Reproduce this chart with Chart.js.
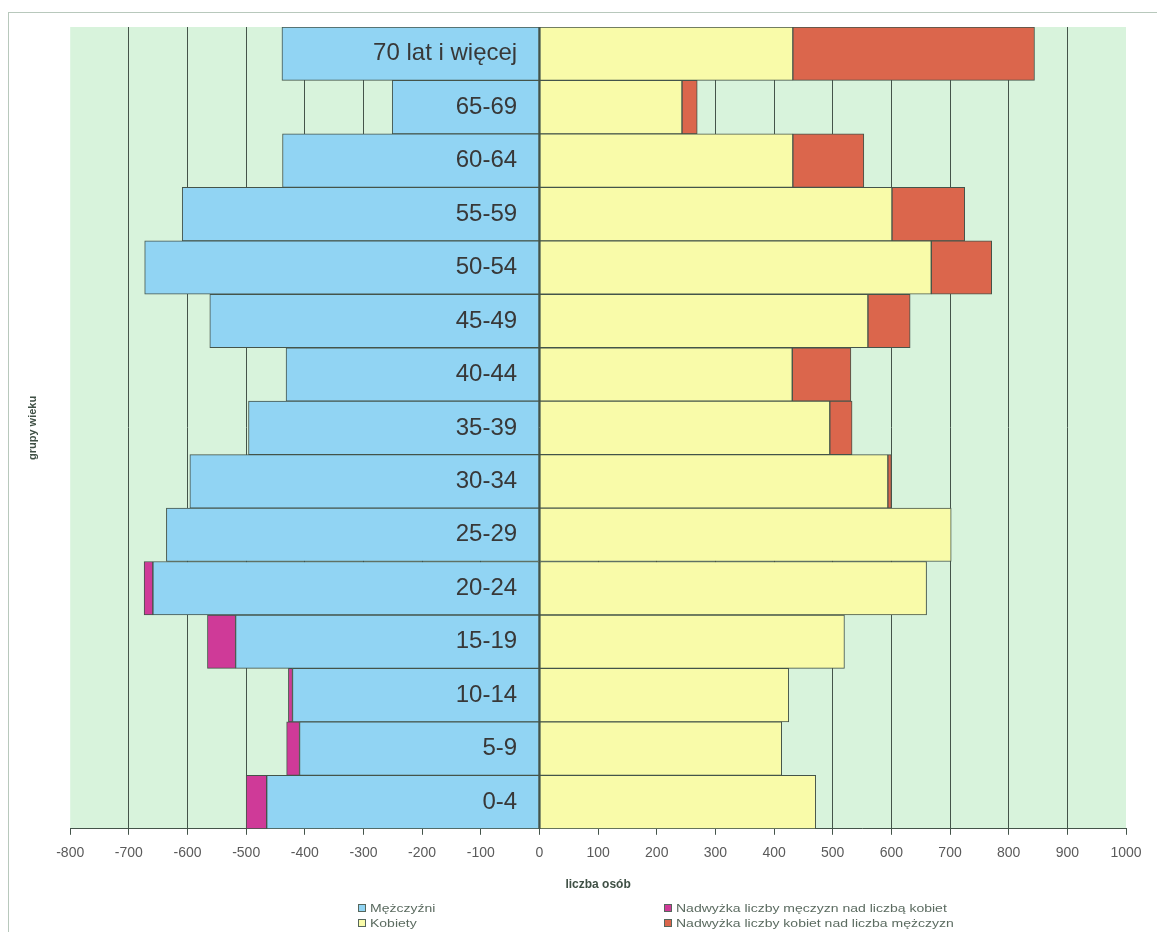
<!DOCTYPE html>
<html lang="pl">
<head>
<meta charset="utf-8">
<title>Grupy wieku</title>
<script src="https://cdn.jsdelivr.net/npm/chart.js@4/dist/chart.umd.min.js"></script>
<style>
  html, body { margin: 0; padding: 0; background: #fff; overflow: hidden; }
  #wrap { position: relative; width: 1157px; height: 932px; }
  #frame { position: absolute; left: 8px; top: 12px; width: 2000px; height: 2000px;
           border-left: 1px solid #b8c8bc; border-top: 1px solid #b8c8bc; }
  #out { position: absolute; left: 0; top: 0; }
  #legend { position: absolute; left: 0; top: 0; width: 1157px; height: 932px; pointer-events: none;
            font-family: "Liberation Sans", Arial, sans-serif; font-size: 10px; color: #5b6b60; }
  .item { position: absolute; white-space: nowrap; line-height: 12px; }
  .box { display: inline-block; width: 6px; height: 6px; border: 1px solid #56665c;
         margin-right: 4px; vertical-align: 0px; }
  .txt { display: inline-block; transform: scaleX(1.4); transform-origin: 0 50%; }
</style>
</head>
<body>
<div id="wrap">
  <div id="frame"></div>
  <canvas id="out" width="1157" height="932"></canvas>
  <div id="legend"></div>
</div>
<script>
// grupy wieku, od gory do dolu
const ageGroups = ["70 lat i więcej", "65-69", "60-64", "55-59", "50-54", "45-49", "40-44",
	"35-39", "30-34", "25-29", "20-24", "15-19", "10-14", "5-9", "0-4"];
const men = [-439, -251, -438, -609, -673, -562, -432, -496, -596, -636, -659, -518, -421, -409, -465];
const women = [432, 243, 432, 601, 668, 560, 431, 495, 594, 702, 660, 520, 425, 413, 471];
const menSurplus = [0, 0, 0, 0, 0, 0, 0, 0, 0, 0, -15, -48, -7, -22, -35];
const womenSurplus = [412, 26, 121, 124, 103, 72, 100, 38, 6, 0, 0, 0, 0, 0, 0];

const seriesNames = ["Mężczyźni", "Kobiety",
	"Nadwyżka liczby męczyzn nad liczbą kobiet", "Nadwyżka liczby kobiet nad liczba mężczyzn"];
const xMin = -800;
const xMax = 1000;
const xStep = 100;

const font = "'Liberation Sans', Arial, sans-serif";
const edge = "#44544a";

const plotBackground = {
	id: "plotBackground",
	beforeDraw(chart) {
		const {ctx, chartArea: a} = chart;
		ctx.save();
		ctx.fillStyle = "#d8f3dc";
		ctx.fillRect(a.left, a.top, a.right - a.left, a.bottom - a.top);
		ctx.restore();
	}
};

function bar(label, data, color) {
	return {
		label: label,
		data: data,
		backgroundColor: color,
		borderColor: edge,
		borderWidth: 1,
		borderSkipped: false,
		barPercentage: 1,
		categoryPercentage: 1
	};
}

const chart = new Chart(document.getElementById("out").getContext("2d"), {
	type: "bar",
	data: {
		labels: ageGroups,
		datasets: [
			bar(seriesNames[0], men, "#91d4f3"),
			bar(seriesNames[1], women, "#f9fba9"),
			bar(seriesNames[2], menSurplus, "#cf3a98"),
			bar(seriesNames[3], womenSurplus, "#db664c")
		]
	},
	options: {
		indexAxis: "y",
		responsive: false,
		animation: false,
		layout: { padding: { top: 27, right: 31, bottom: 36, left: 18 } },
		plugins: {
			legend: { display: false },
			tooltip: { enabled: false }
		},
		scales: {
			x: {
				stacked: true,
				min: xMin,
				max: xMax,
				ticks: {
					stepSize: xStep,
					padding: 10,
					color: "#5a5a5a",
					font: { family: font, size: 14 },
					callback: (v) => String(v)
				},
				grid: {
					color: (c) => (c.tick && (c.tick.value === xMin || c.tick.value === xMax)) ? "rgba(0,0,0,0)" : edge,
					tickColor: edge,
					lineWidth: 1,
					tickLength: 6
				},
				border: { display: true, color: edge },
				title: {
					display: true,
					text: "liczba osób",
					color: "#3f5045",
					font: { family: font, size: 12, weight: "bold" },
					padding: { top: 6, bottom: 4 }
				}
			},
			y: {
				stacked: true,
				position: { x: -38 },
				grid: { display: false },
				border: { display: false },
				ticks: { z: 1, color: "#383838", font: { family: font, size: 24 } }
			},
			yTitle: {
				type: "category",
				position: "left",
				grid: { display: false },
				border: { display: false },
				ticks: { display: false },
				title: {
					display: true,
					text: "grupy wieku",
					color: "#3f5045",
					font: { family: font, size: 11, weight: "bold" },
					padding: { top: 8, bottom: 23 }
				}
			}
		}
	},
	plugins: [plotBackground]
});

// legenda w dwoch kolumnach, jak w oryginale
const legendBox = document.getElementById("legend");
const legendPos = [[358, 903], [358, 918], [664, 903], [664, 918]];
chart.data.datasets.forEach(function(ds, i) {
	const item = document.createElement("div");
	item.className = "item";
	item.style.left = legendPos[i][0] + "px";
	item.style.top = legendPos[i][1] + "px";
	const box = document.createElement("span");
	box.className = "box";
	box.style.background = ds.backgroundColor;
	const txt = document.createElement("span");
	txt.className = "txt";
	txt.textContent = ds.label;
	item.appendChild(box);
	item.appendChild(txt);
	legendBox.appendChild(item);
});
</script>
</body>
</html>
